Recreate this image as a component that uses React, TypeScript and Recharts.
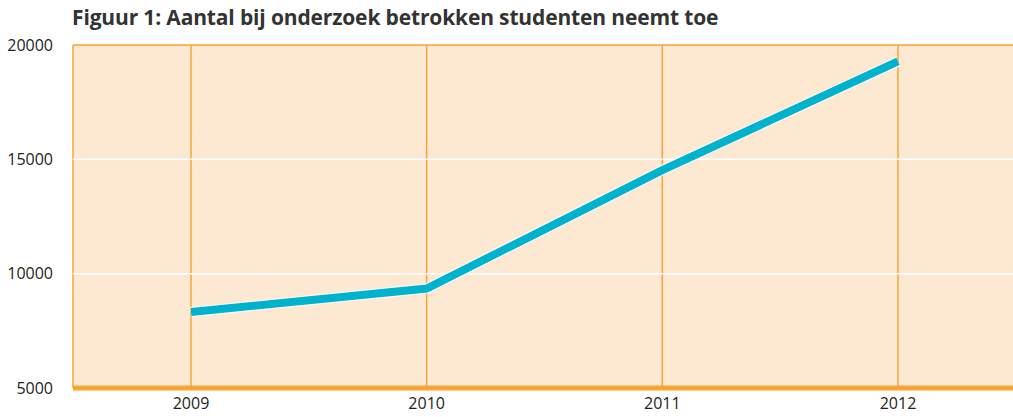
import React from "react";
import { ComposedChart, Line, XAxis, YAxis, CartesianGrid, ReferenceLine } from "recharts";

const years = ["2009", "2010", "2011", "2012"];
const students = [8320, 9350, 14530, 19280];
const yTicks = [5000, 10000, 15000, 20000];
const title = "Figuur 1: Aantal bij onderzoek betrokken studenten neemt toe";

const data = years.map((y, i) => ({ year: y, students: students[i] }));

const ORANGE = "#f9a535";
const BG = "#fde9d2";
const CYAN = "#00b2cc";
const FONT = "'Open Sans', 'Noto Sans', sans-serif";

export default function App() {
  return (
    <div style={{ position: "absolute", left: 0, top: 0, width: 1013, height: 417, background: "#fff", overflow: "hidden" }}>
      <div
        style={{
          position: "absolute",
          left: 72,
          top: 3,
          fontFamily: FONT,
          fontWeight: 700,
          fontSize: 21,
          color: "#333333",
          whiteSpace: "nowrap",
          letterSpacing: -0.15,
        }}
      >
        {title}
      </div>
      <ComposedChart
        width={1016}
        height={417}
        data={data}
        margin={{ top: 45, right: 0, bottom: 0, left: 0 }}
      >
        <CartesianGrid horizontal={false} vertical={true} stroke={ORANGE} strokeWidth={1.5} fill={BG} fillOpacity={1} />
        <XAxis
          dataKey="year"
          axisLine={false}
          tickLine={false}
          height={29}
          padding={{ left: 118, right: 118 }}
          tick={{ fill: "#231f20", fontSize: 16, fontFamily: FONT }}
          tickMargin={4}
          interval={0}
        />
        <YAxis
          type="number"
          domain={[5000, 20000]}
          ticks={yTicks}
          width={73}
          axisLine={false}
          tickLine={false}
          tick={{ fill: "#231f20", fontSize: 16, fontFamily: FONT }}
          tickMargin={14}
          interval={0}
        />
        <ReferenceLine y={10000} stroke="#ffffff" strokeWidth={1.5} />
        <ReferenceLine y={15000} stroke="#ffffff" strokeWidth={1.5} />
        <ReferenceLine y={20000} stroke={ORANGE} strokeWidth={1.5} />
        <ReferenceLine y={5000} stroke={ORANGE} strokeWidth={5} />
        <Line
          dataKey="students"
          stroke="#ffffff"
          strokeWidth={10}
          strokeLinecap="butt"
          strokeLinejoin="miter"
          dot={false}
          activeDot={false}
          isAnimationActive={false}
        />
        <Line
          dataKey="students"
          stroke={CYAN}
          strokeWidth={8}
          strokeLinecap="butt"
          strokeLinejoin="miter"
          dot={false}
          activeDot={false}
          isAnimationActive={false}
        />
      </ComposedChart>
    </div>
  );
}
